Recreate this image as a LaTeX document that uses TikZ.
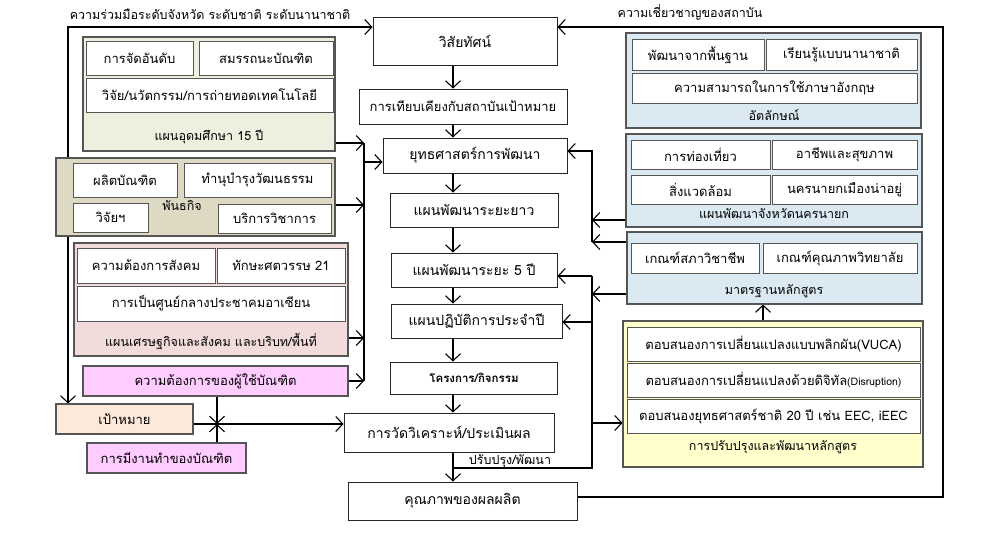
\documentclass[tikz,border=0pt]{standalone}
\usepackage{fontspec}
\setmainfont[Script=Thai]{Loma}
\usepackage{tikz}
\usetikzlibrary{arrows.meta,%
                shapes,positioning,backgrounds}
\definecolor{grpgreen}{RGB}{235,241,222}
\definecolor{grpkhaki}{RGB}{221,217,195}
\definecolor{grppink}{RGB}{242,220,219}
\definecolor{grpblue}{RGB}{219,234,242}
\definecolor{grpyellow}{RGB}{255,255,204}
\definecolor{boxmagenta}{RGB}{255,204,255}
\definecolor{boxpeach}{RGB}{253,233,217}
\definecolor{edgegray}{RGB}{85,85,85}
\begin{document}
\begin{tikzpicture}[x=1pt,y=-1pt,
  wh/.style 2 args={minimum width=#1,minimum height=#2},
  mainbox/.style={draw=black!85,line width=1pt,fill=white,inner sep=0pt,font=\fontsize{14}{16}\selectfont},
  subbox/.style={draw=edgegray,line width=1pt,fill=white,inner sep=0pt,font=\fontsize{13}{15}\selectfont},
  grp/.style={draw=edgegray,line width=1.1pt,inner sep=0pt},
  grplabel/.style={inner sep=0pt,font=\fontsize{12.5}{14}\selectfont},
  arr/.style={line width=1.1pt,-{Straight Barb[length=7pt,width=15pt]}},
  arrboth/.style={line width=1.1pt,{Straight Barb[length=7pt,width=15pt]}-{Straight Barb[length=7pt,width=15pt]}}]
\useasboundingbox (0,0) rectangle (1000,535);
\node[mainbox,wh={184}{47}] (vis) at (465,41.5) {วิสัยทัศน์};
\node[mainbox,wh={208}{35},font=\fontsize{13}{15}\selectfont] (bench) at (463,106.5) {การเทียบเคียงกับสถาบันเป้าหมาย};
\node[mainbox,wh={184}{35}] (strat) at (475,155.5) {ยุทธศาสตร์การพัฒนา};
\node[mainbox,wh={168}{34}] (longp) at (474,210) {แผนพัฒนาระยะยาว};
\node[mainbox,wh={166}{34}] (p5) at (474,270) {แผนพัฒนาระยะ 5 ปี};
\node[mainbox,wh={171}{34}] (annual) at (476.5,321) {แผนปฏิบัติการประจำปี};
\node[mainbox,wh={167}{32},font=\fontsize{11.5}{13}\bfseries] (proj) at (474,378) {โครงการ/กิจกรรม};
\node[mainbox,wh={210}{39}] (eval) at (449,432.5) {การวัดวิเคราะห์/ประเมินผล};
\node[mainbox,wh={229}{38}] (qual) at (462.5,501) {คุณภาพของผลผลิต};
\node[grp,fill=grpgreen,wh={252}{114}] (g1) at (209,94) {};
\node[subbox,wh={107}{33}] (rank) at (139.5,58.5) {การจัดอันดับ};
\node[subbox,wh={134}{33}] (comp) at (266,58.5) {สมรรถนะบัณฑิต};
\node[subbox,wh={247}{34}] (research) at (209.5,95) {วิจัย/นวัตกรรม/การถ่ายทอดเทคโนโลยี};
\node[grplabel] (g1lab) at (209,137) {แผนอุดมศึกษา 15 ปี};
\node[grp,fill=grpkhaki,wh={279}{78}] (g2) at (195.5,197) {};
\node[subbox,wh={104}{34}] (grad) at (125,180) {ผลิตบัณฑิต};
\node[subbox,wh={147}{34}] (cult) at (257.5,180) {ทำนุบำรุงวัฒนธรรม};
\node[subbox,wh={75}{29}] (resm) at (110.5,217.5) {วิจัยฯ};
\node[subbox,wh={113}{29}] (serv) at (274.5,218.5) {บริการวิชาการ};
\node[grplabel] (g2lab) at (182,206) {พันธกิจ};
\node[grp,fill=grppink,wh={274}{113}] (g3) at (211,299.5) {};
\node[subbox,wh={138}{35}] (soc) at (146,265.5) {ความต้องการสังคม};
\node[subbox,wh={128}{35}] (skill) at (281,265.5) {ทักษะศตวรรษ 21};
\node[subbox,wh={268}{35}] (asean) at (211,303.5) {การเป็นศูนย์กลางประชาคมอาเซียน};
\node[grplabel] (g3lab) at (211,341) {แผนเศรษฐกิจและสังคม และบริบท/พื้นที่};
\node[grp,fill=boxmagenta,wh={265}{30},font=\fontsize{13}{15}\selectfont] (need) at (215.5,381) {ความต้องการของผู้ใช้บัณฑิต};
\node[grp,fill=boxpeach,wh={137}{30},font=\fontsize{13}{15}\selectfont] (goal) at (124.5,419) {เป้าหมาย};
\node[grp,fill=boxmagenta,wh={159}{30},font=\fontsize{13}{15}\selectfont] (job) at (166.5,458) {การมีงานทำของบัณฑิต};
\node[grp,fill=grpblue,wh={295}{95}] (g4) at (773.5,80.5) {};
\node[subbox,wh={132}{30}] (basic) at (698,55) {พัฒนาจากพื้นฐาน};
\node[subbox,wh={151}{30}] (intl) at (841.5,55) {เรียนรู้แบบนานาชาติ};
\node[subbox,wh={285}{30}] (eng) at (774.5,88) {ความสามารถในการใช้ภาษาอังกฤษ};
\node[grplabel] (g4lab) at (774,115) {อัตลักษณ์};
\node[grp,fill=grpblue,wh={296}{93}] (g5) at (774,180.5) {};
\node[subbox,wh={139}{29}] (tour) at (700.5,154.5) {การท่องเที่ยว};
\node[subbox,wh={145}{29}] (health) at (844.5,154.5) {อาชีพและสุขภาพ};
\node[subbox,wh={139}{29}] (env) at (700.5,189.5) {สิ่งแวดล้อม};
\node[subbox,wh={145}{29}] (city) at (844.5,189.5) {นครนายกเมืองน่าอยู่};
\node[grplabel] (g5lab) at (774,214) {แผนพัฒนาจังหวัดนครนายก};
\node[grp,fill=grpblue,wh={295}{72}] (g6) at (774.5,268) {};
\node[subbox,wh={128}{30}] (prof) at (695,258) {เกณฑ์สภาวิชาชีพ};
\node[subbox,wh={154}{30}] (coll) at (840,258) {เกณฑ์คุณภาพวิทยาลัย};
\node[grplabel] (g6lab) at (774,291) {มาตรฐานหลักสูตร};
\node[grp,fill=grpyellow,wh={300}{146}] (g7) at (773,394) {};
\node[subbox,wh={293}{34}] (vuca) at (773.5,344) {ตอบสนองการเปลี่ยนแปลงแบบพลิกผัน(VUCA)};
\node[subbox,wh={293}{34}] (disr) at (773.5,380) {ตอบสนองการเปลี่ยนแปลงด้วยดิจิทัล{\fontsize{10.5}{12}\selectfont(Disruption)}};
\node[subbox,wh={293}{34}] (nat) at (773.5,416) {ตอบสนองยุทธศาสตร์ชาติ 20 ปี เช่น EEC, iEEC};
\node[grplabel] (g7lab) at (773,447) {การปรับปรุงและพัฒนาหลักสูตร};
\node[grplabel] (coop) at (210,14) {ความร่วมมือระดับจังหวัด ระดับชาติ ระดับนานาชาติ};
\node[grplabel] (expert) at (690,12) {ความเชี่ยวชาญของสถาบัน};
\node[grplabel] (improve) at (510,461) {ปรับปรุง/พัฒนา};
\coordinate (ax) at (453,0);
\coordinate (tl) at (68,27);
\coordinate (tr) at (943,27);
\coordinate (br) at (943,497);
\coordinate (a0) at (364,162);
\coordinate (a1) at (364,143);
\coordinate (a2) at (364,205);
\coordinate (a3) at (364,338);
\coordinate (a4) at (364,381);
\coordinate (b0) at (592,151);
\coordinate (b1) at (592,220);
\coordinate (b2) at (592,242);
\coordinate (c0) at (592,276);
\coordinate (c1) at (592,322);
\coordinate (c2) at (592,294);
\coordinate (c3) at (592,423);
\coordinate (c4) at (592,468);
\coordinate (c5) at (453,468);
\coordinate (d0) at (763,0);
\coordinate (j) at (217,424);
\begin{scope}[on background layer]
\draw[arrboth] (goal.north -| tl) -- (tl) -- (vis.west |- tl);
\end{scope}
\draw[arr] (vis.south -| ax) -- (bench.north -| ax);
\draw[arr] (bench.south -| ax) -- (strat.north -| ax);
\draw[arr] (strat.south -| ax) -- (longp.north -| ax);
\draw[arr] (longp.south -| ax) -- (p5.north -| ax);
\draw[arr] (p5.south -| ax) -- (annual.north -| ax);
\draw[arr] (annual.south -| ax) -- (proj.north -| ax);
\draw[arr] (proj.south -| ax) -- (eval.north -| ax);
\draw[arr] (eval.south -| ax) -- (qual.north -| ax);
\draw[arr] (g1.east |- a1) -- (a1);
\draw[arr] (g2.east |- a2) -- (a2);
\draw[arr] (g3.east |- a3) -- (a3);
\draw[arr] (need.east |- a4) -- (a4);
\draw[line width=1.1pt] (a1) -- (a4);
\draw[arr] (a0) -- (strat.west |- a0);
\draw[arr] (goal.east |- j) -- (eval.west |- j);
\draw[arr] (need.south -| j) -- (j);
\draw[arr] (job.north -| j) -- (j);
\draw[arr] (b2) -- (b0) -- (strat.east |- b0);
\draw[arr] (g5.west |- b1) -- (b1);
\draw[arr] (g6.west |- b2) -- (b2);
\draw[line width=1.1pt] (c5) -- (c4) -- (c0);
\draw[arr] (c0) -- (p5.east |- c0);
\draw[arr] (c1) -- (annual.east |- c1);
\draw[arr] (g6.west |- c2) -- (c2);
\draw[arr] (c3) -- (g7.west |- c3);
\draw[arr] (g7.north -| d0) -- (g6.south -| d0);
\draw[arr] (qual.east |- br) -- (br) -- (tr) -- (vis.east |- tr);
\end{tikzpicture}
\end{document}
